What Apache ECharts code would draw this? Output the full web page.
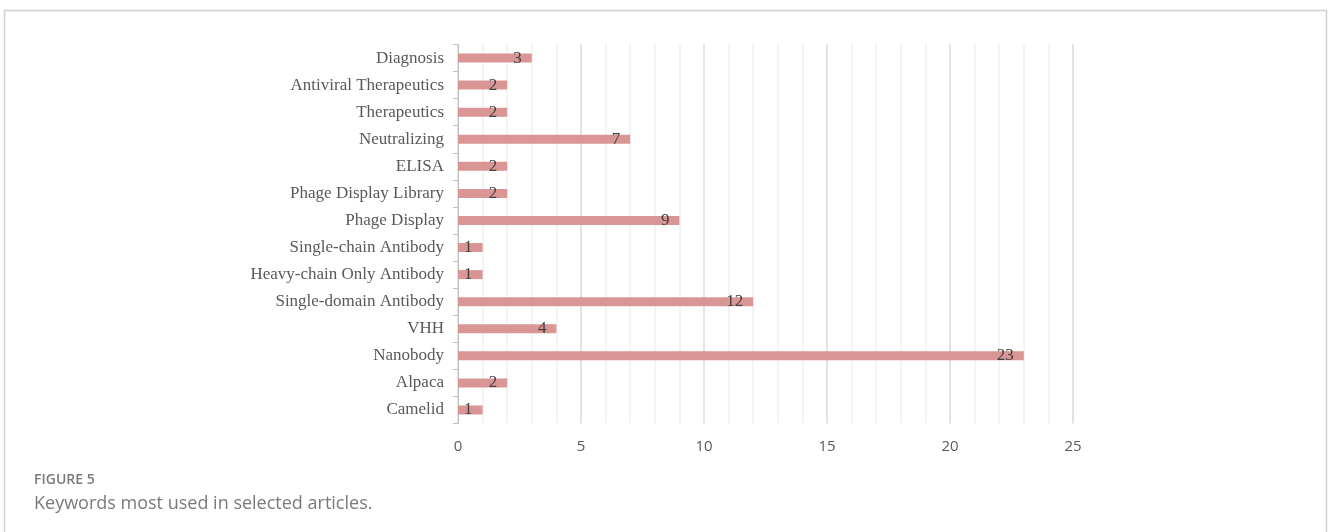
<!DOCTYPE html>
<html>
<head>
<meta charset="utf-8">
<script src="https://cdn.jsdelivr.net/npm/echarts@6/dist/echarts.min.js"></script>
<style>
  html, body { margin: 0; padding: 0; background: #fff; }
  #chart { width: 1328px; height: 532px; }
</style>
</head>
<body>
<div id="chart"></div>
<script>
// Keyword frequencies, listed bottom to top
const keywords = [
  'Camelid', 'Alpaca', 'Nanobody', 'VHH', 'Single-domain Antibody',
  'Heavy-chain Only Antibody', 'Single-chain Antibody', 'Phage Display',
  'Phage Display Library', 'ELISA', 'Neutralizing', 'Therapeutics',
  'Antiviral Therapeutics', 'Diagnosis'
];
const counts = [1, 2, 23, 4, 12, 1, 1, 9, 2, 2, 7, 2, 2, 3];
const figureLabel = 'FIGURE 5';
const figureCaption = 'Keywords most used in selected articles.';

const chart = echarts.init(document.getElementById('chart'));
chart.setOption({
  animation: false,
  graphic: [
    {
      type: 'rect',
      shape: { x: 4.5, y: 10.5, width: 1322, height: 540 },
      style: { fill: 'none', stroke: '#cfcfcf', lineWidth: 1.5 }
    },
    {
      type: 'text', left: 34, top: 473,
      style: { text: figureLabel, fill: '#7a7a7a', font: '600 14px "Open Sans", sans-serif' }
    },
    {
      type: 'text', left: 34, top: 495,
      style: { text: figureCaption, fill: '#7a7a7a', font: '18px "Open Sans", sans-serif' }
    }
  ],
  grid: { left: 458, right: 255, top: 44.5, bottom: 108.5 },
  xAxis: {
    type: 'value',
    min: 0, max: 25, interval: 5,
    axisLine: { show: false },
    axisTick: { show: false },
    axisLabel: { color: '#595959', fontSize: 15, fontFamily: '"Open Sans", sans-serif', margin: 16 },
    splitLine: { lineStyle: { color: '#d9d9d9', width: 1.5 } },
    minorTick: { show: false, splitNumber: 5 },
    minorSplitLine: { show: true, lineStyle: { color: '#efefef', width: 1.5 } }
  },
  yAxis: {
    type: 'category',
    data: keywords,
    axisLine: { lineStyle: { color: '#bfbfbf', width: 1 } },
    axisTick: { show: true, length: 5, lineStyle: { color: '#bfbfbf' } },
    axisLabel: { color: '#595959', fontSize: 17, fontFamily: '"Liberation Serif", "Times New Roman", serif', margin: 14 }
  },
  series: [{
    type: 'bar',
    data: counts,
    barWidth: 9,
    itemStyle: { color: '#d99694' },
    label: {
      show: true,
      position: 'insideRight',
      distance: 10,
      color: '#404040',
      fontSize: 17,
      fontFamily: '"Liberation Serif", "Times New Roman", serif'
    }
  }]
});
</script>
</body>
</html>
